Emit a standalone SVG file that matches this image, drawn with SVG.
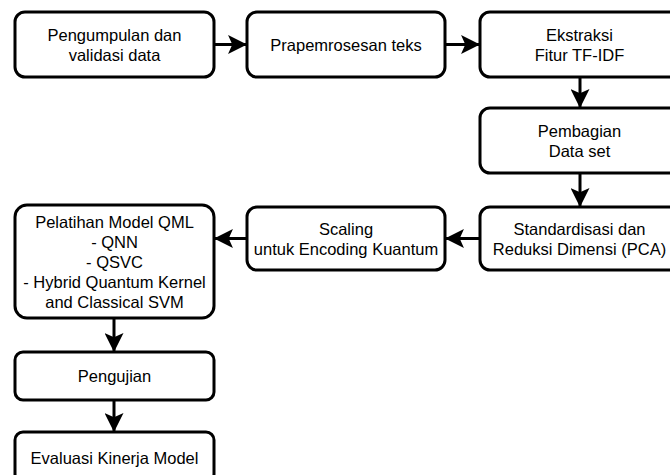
<svg xmlns="http://www.w3.org/2000/svg" width="670" height="475" viewBox="0 0 670 475">
<defs>
<style>
.box{fill:#fff;stroke:#000;stroke-width:3}
.t{font-family:"Liberation Sans",Arial,sans-serif;font-size:16.5px;fill:#000;text-anchor:middle}
.c{fill:none;stroke:#000;stroke-width:3}
</style>
<marker id="ah" markerUnits="userSpaceOnUse" markerWidth="19" markerHeight="19" viewBox="0 0 18 18" refX="17" refY="9" orient="auto">
<path d="M0,0 L18,9 L0,18 L4,9 Z" fill="#000"/>
</marker>
</defs>
<rect width="670" height="475" fill="#fff"/>
<g id="connectors">
<line class="c" x1="214" y1="44.5" x2="246" y2="44.5" marker-end="url(#ah)"/>
<line class="c" x1="445" y1="44.5" x2="479" y2="44.5" marker-end="url(#ah)"/>
<line class="c" x1="580" y1="77" x2="580" y2="107" marker-end="url(#ah)"/>
<line class="c" x1="580" y1="173" x2="580" y2="206" marker-end="url(#ah)"/>
<line class="c" x1="480" y1="238.5" x2="446" y2="238.5" marker-end="url(#ah)"/>
<line class="c" x1="247" y1="238.5" x2="215" y2="238.5" marker-end="url(#ah)"/>
<line class="c" x1="114" y1="318" x2="114" y2="351" marker-end="url(#ah)"/>
<line class="c" x1="114" y1="400" x2="114" y2="431" marker-end="url(#ah)"/>
</g>
<g id="n1"><rect class="box" x="15" y="12" width="199" height="65" rx="10"/>
<text class="t" x="114.5" y="40.5">Pengumpulan dan</text><text class="t" x="114.5" y="60.5">validasi data</text></g>
<g id="n2"><rect class="box" x="247" y="12" width="198" height="65" rx="10"/>
<text class="t" x="346" y="50.5">Prapemrosesan teks</text></g>
<g id="n3"><rect class="box" x="480" y="12" width="199" height="65" rx="10"/>
<text class="t" x="579.5" y="40.5">Ekstraksi</text><text class="t" x="579.5" y="60.5">Fitur TF-IDF</text></g>
<g id="n4"><rect class="box" x="480" y="108" width="199" height="65" rx="10"/>
<text class="t" x="579.5" y="136.5">Pembagian</text><text class="t" x="579.5" y="156.5">Data set</text></g>
<g id="n5"><rect class="box" x="480" y="207" width="199" height="63" rx="10"/>
<text class="t" x="579.5" y="234.5">Standardisasi dan</text><text class="t" x="579.5" y="254.5">Reduksi Dimensi (PCA)</text></g>
<g id="n6"><rect class="box" x="247" y="207" width="198" height="63" rx="10"/>
<text class="t" x="346" y="234.5">Scaling</text><text class="t" x="346" y="254.5">untuk Encoding Kuantum</text></g>
<g id="n7"><rect class="box" x="15" y="205" width="199" height="113" rx="12"/>
<text class="t" x="114.5" y="228">Pelatihan Model QML</text>
<text class="t" x="114.5" y="248">- QNN</text>
<text class="t" x="114.5" y="268">- QSVC</text>
<text class="t" x="114.5" y="288">- Hybrid Quantum Kernel</text>
<text class="t" x="114.5" y="308">and Classical SVM</text></g>
<g id="n8"><rect class="box" x="15" y="352" width="199" height="48" rx="8"/>
<text class="t" x="114.5" y="382">Pengujian</text></g>
<g id="n9"><rect class="box" x="15" y="432" width="199" height="50" rx="8"/>
<text class="t" x="114.5" y="464">Evaluasi Kinerja Model</text></g>
</svg>
